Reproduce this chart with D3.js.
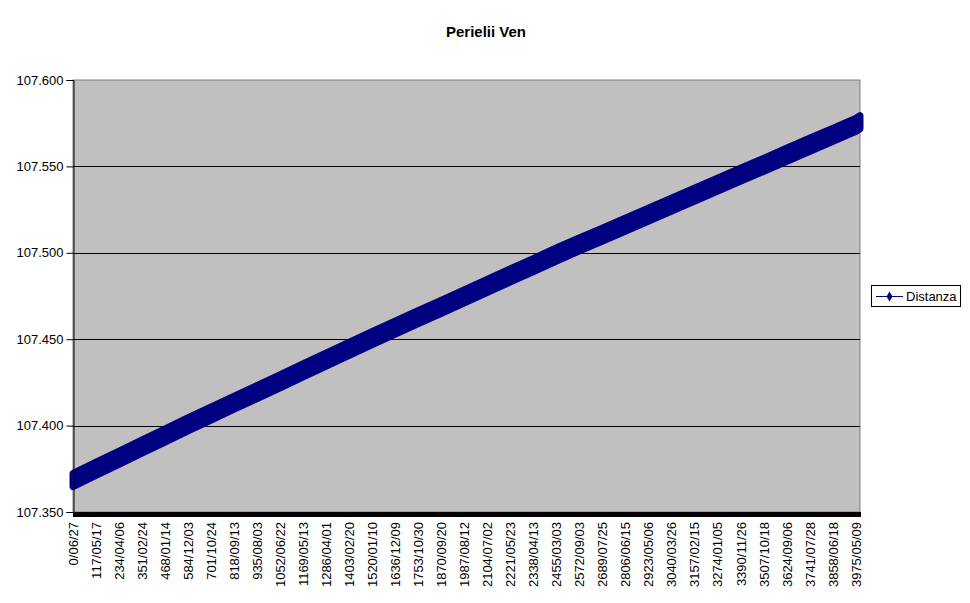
<!DOCTYPE html>
<html>
<head>
<meta charset="utf-8">
<script src="https://cdn.jsdelivr.net/npm/d3@7"></script>
<style>
  body { margin: 0; background: #fff; }
  svg { display: block; font-family: Arial, "Liberation Sans", sans-serif; }
</style>
</head>
<body>
<svg id="chart"></svg>
<script>
// tick labels on the category axis (one every 190 perihelion passages)
const tickLabels = ['0/06/27', '117/05/17', '234/04/06', '351/02/24', '468/01/14', '584/12/03',
  '701/10/24', '818/09/13', '935/08/03', '1052/06/22', '1169/05/13', '1286/04/01',
  '1403/02/20', '1520/01/10', '1636/12/09', '1753/10/30', '1870/09/20', '1987/08/12',
  '2104/07/02', '2221/05/23', '2338/04/13', '2455/03/03', '2572/09/03', '2689/07/25',
  '2806/06/15', '2923/05/06', '3040/03/26', '3157/02/15', '3274/01/05', '3390/11/26',
  '3507/10/18', '3624/09/06', '3741/07/28', '3858/06/18', '3975/05/09'];
const labelStep = 190;
const lastIndex = 6492;

// passage index where band values were read (each tick + last point)
const sampleIndex = [0, 190, 380, 570, 760, 950, 1140, 1330, 1520, 1710, 1900, 2090,
  2280, 2470, 2660, 2850, 3040, 3230, 3420, 3610, 3800, 3990, 4180, 4370,
  4560, 4750, 4940, 5130, 5320, 5510, 5700, 5890, 6080, 6270, 6460, 6492];
// Distanza (max / min of the oscillation around each sample)
const distMax = [107.3723, 107.3788, 107.3852, 107.3917, 107.3981, 107.4046, 107.4108, 107.4171,
  107.4233, 107.4295, 107.4358, 107.4420, 107.4483, 107.4545, 107.4605, 107.4666, 107.4726,
  107.4787, 107.4847, 107.4908, 107.4968, 107.5029, 107.5087, 107.5144, 107.5202, 107.5260,
  107.5318, 107.5375, 107.5433, 107.5491, 107.5548, 107.5606, 107.5664, 107.5721, 107.5779, 107.5794];
const distMin = [107.3647, 107.3712, 107.3776, 107.3841, 107.3905, 107.3970, 107.4032, 107.4095,
  107.4157, 107.4219, 107.4282, 107.4344, 107.4407, 107.4469, 107.4529, 107.4590, 107.4650,
  107.4711, 107.4771, 107.4832, 107.4892, 107.4953, 107.5011, 107.5068, 107.5126, 107.5184,
  107.5242, 107.5299, 107.5357, 107.5415, 107.5472, 107.5530, 107.5588, 107.5645, 107.5703, 107.5718];
const yTicks = [107.35, 107.40, 107.45, 107.50, 107.55, 107.60];

const width = 970, height = 603;
const plot = { left: 73, right: 860, top: 80, bottom: 512 };

const svg = d3.select('#chart').attr('width', width).attr('height', height);

const x = d3.scaleLinear().domain([0, lastIndex]).range([plot.left, plot.right]);
const y = d3.scaleLinear().domain([107.35, 107.60]).range([plot.bottom, plot.top]);

// title
svg.append('text')
  .attr('x', 486).attr('y', 37)
  .attr('text-anchor', 'middle')
  .style('font-size', '15px').style('font-weight', 'bold')
  .text('Perielii Ven');

// plot background
svg.append('rect')
  .attr('x', plot.left).attr('y', plot.top)
  .attr('width', plot.right - plot.left).attr('height', plot.bottom - plot.top)
  .attr('fill', '#c0c0c0').attr('stroke', '#808080');

// gridlines
svg.append('g').selectAll('line')
  .data(yTicks.slice(1, -1))
  .enter().append('line')
  .attr('x1', plot.left).attr('x2', plot.right)
  .attr('y1', d => Math.round(y(d)) + 0.5).attr('y2', d => Math.round(y(d)) + 0.5)
  .attr('stroke', '#000');

// series band
const band = d3.area()
  .x((d, i) => x(sampleIndex[i]))
  .y0((d, i) => y(distMin[i]))
  .y1((d, i) => y(distMax[i]));

svg.append('path')
  .attr('d', band(sampleIndex))
  .attr('fill', '#000080')
  .attr('stroke', '#000080')
  .attr('stroke-width', 7)
  .attr('stroke-linejoin', 'round');

// y axis
const yAxis = svg.append('g')
  .attr('transform', `translate(${plot.left + 0.5},0)`)
  .call(d3.axisLeft(y).tickValues(yTicks).tickFormat(d3.format('.3f')).tickSize(7).tickPadding(3));
yAxis.select('.domain').attr('stroke', '#000');
yAxis.selectAll('text').style('font-size', '13px').style('font-family', 'Arial, "Liberation Sans", sans-serif').attr('fill', '#000');
yAxis.selectAll('.tick line').attr('stroke', '#000');

// x axis (dense category ticks form a thick bar)
svg.append('rect')
  .attr('x', plot.left).attr('y', plot.bottom)
  .attr('width', plot.right - plot.left + 1).attr('height', 5)
  .attr('fill', '#000');

svg.append('g').selectAll('text')
  .data(tickLabels)
  .enter().append('text')
  .attr('transform', (d, i) => `translate(${x(i * labelStep)},522) rotate(-90)`)
  .attr('text-anchor', 'end')
  .attr('dy', '0.35em')
  .style('font-size', '13px')
  .text(d => d);

// legend
const lg = svg.append('g').attr('transform', 'translate(871,285)');
lg.append('rect').attr('x', 0.5).attr('y', 0.5).attr('width', 89).attr('height', 21)
  .attr('fill', '#fff').attr('stroke', '#000');
lg.append('line').attr('x1', 5).attr('x2', 32).attr('y1', 11.5).attr('y2', 11.5)
  .attr('stroke', '#000080').attr('stroke-width', 1);
lg.append('path').attr('d', d3.symbol(d3.symbolDiamond, 30)())
  .attr('transform', 'translate(18.5,11.5)').attr('fill', '#000080');
lg.append('text').attr('x', 35).attr('y', 16).style('font-size', '13px').text('Distanza');
</script>
</body>
</html>
